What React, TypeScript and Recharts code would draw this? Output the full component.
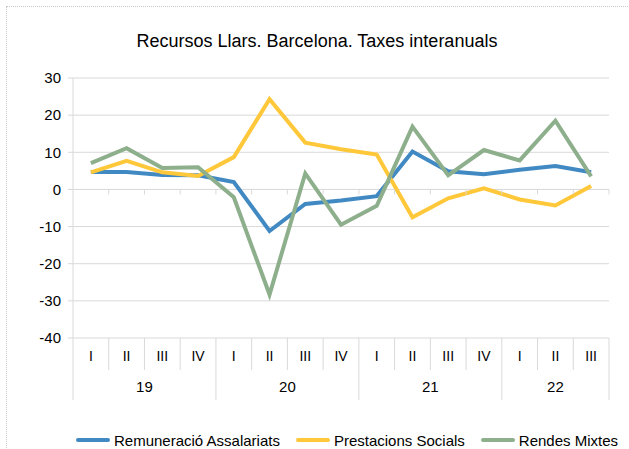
import { LineChart, Line, XAxis, YAxis, CartesianGrid } from "recharts";

const quarters = ["I", "II", "III", "IV", "I", "II", "III", "IV", "I", "II", "III", "IV", "I", "II", "III"];
const years = ["19", "19", "19", "19", "20", "20", "20", "20", "21", "21", "21", "21", "22", "22", "22"];

const remuneracio = [4.7, 4.7, 3.9, 3.8, 2.0, -11.2, -3.9, -3.0, -1.8, 10.2, 4.9, 4.1, 5.3, 6.3, 4.6];
const prestacions = [4.6, 7.7, 4.6, 3.6, 8.7, 24.3, 12.6, 10.8, 9.4, -7.5, -2.4, 0.3, -2.7, -4.3, 0.9];
const rendes = [7.1, 11.1, 5.8, 6.0, -2.1, -28.3, 4.3, -9.5, -4.4, 16.9, 3.8, 10.6, 7.8, 18.5, 3.5];

const yTicks = [-40, -30, -20, -10, 0, 10, 20, 30];

const series = [
  { key: "rem", name: "Remuneració Assalariats", color: "#4189C3" },
  { key: "pre", name: "Prestacions Socials", color: "#FFC83A" },
  { key: "ren", name: "Rendes Mixtes", color: "#8DAF8C" },
];

const data = quarters.map((q, i) => ({
  idx: i,
  q,
  year: years[i],
  rem: remuneracio[i],
  pre: prestacions[i],
  ren: rendes[i],
}));

const W = 629;
const H = 449;
const TOP = 78;
const LEFT = 73;
const RIGHT = 20;
const PLOT_H = 260;
const BAND = (W - LEFT - RIGHT) / quarters.length;
const Y_MAX = 30;
const Y_MIN = -40;
const ZERO_Y = TOP + ((Y_MAX - 0) / (Y_MAX - Y_MIN)) * PLOT_H;
const GRID = "#d9d9d9";
const FONT = "'Liberation Sans', Arial, sans-serif";

const CategoryTick = (props: any) => {
  const { x, y, payload } = props;
  const i = payload.index ?? payload.value;
  const half = BAND / 2;
  const yearStart = i === 0 || years[i] !== years[i - 1];
  const last = i === quarters.length - 1;
  let yearLabel = null;
  if (yearStart) {
    const len = years.filter((v) => v === years[i]).length;
    const cx = x - half + (len * BAND) / 2;
    yearLabel = (
      <text x={cx} y={y + 48} textAnchor="middle" dominantBaseline="central" fontSize={15} fill="#000" fontFamily={FONT}>
        {years[i]}
      </text>
    );
  }
  return (
    <g>
      <line x1={x - half} y1={y} x2={x - half} y2={y + (yearStart ? 62 : 32)} stroke={GRID} />
      {last && <line x1={x + half} y1={y} x2={x + half} y2={y + 62} stroke={GRID} />}
      {i > 0 && <line x1={x - half} y1={ZERO_Y} x2={x - half} y2={ZERO_Y + 5} stroke={GRID} />}
      {last && <line x1={x + half} y1={ZERO_Y} x2={x + half} y2={ZERO_Y + 5} stroke={GRID} />}
      <text x={x} y={y + 18} textAnchor="middle" dominantBaseline="central" fontSize={14} fill="#000" fontFamily={FONT}>
        {quarters[i]}
      </text>
      {yearLabel}
    </g>
  );
};

export default function App() {
  return (
    <div style={{ position: "absolute", left: 0, top: 0, width: W, height: H, background: "#fff", fontFamily: FONT }}>
      <div
        style={{
          position: "absolute",
          left: 6,
          top: 6,
          width: W - 6,
          height: H - 6,
          borderTop: "1px dotted #c8c8c8",
          borderLeft: "1px dotted #c8c8c8",
        }}
      />
      <div
        style={{
          position: "absolute",
          left: 0,
          top: 28,
          width: 634,
          textAlign: "center",
          fontSize: 18,
          lineHeight: "26px",
          color: "#000",
        }}
      >
        Recursos Llars. Barcelona. Taxes interanuals
      </div>
      <LineChart
        width={W}
        height={H}
        data={data}
        margin={{ top: TOP, right: RIGHT, left: 0, bottom: H - TOP - PLOT_H - 111 }}
      >
        <CartesianGrid vertical={false} stroke={GRID} />
        <XAxis
          dataKey="idx"
          interval={0}
          tickSize={0}
          tickMargin={0}
          axisLine={false}
          height={111}
          padding={{ left: BAND / 2, right: BAND / 2 }}
          tick={<CategoryTick />}
        />
        <YAxis
          width={LEFT}
          domain={[Y_MIN, Y_MAX]}
          ticks={yTicks}
          tickSize={5}
          tickMargin={7}
          interval={0}
          axisLine={{ stroke: GRID }}
          tickLine={{ stroke: GRID }}
          tick={{ fill: "#000", fontSize: 15, fontFamily: FONT }}
        />
        {series.map((s) => (
          <Line
            key={s.key}
            type="linear"
            dataKey={s.key}
            name={s.name}
            stroke={s.color}
            strokeWidth={4}
            dot={false}
            activeDot={false}
            isAnimationActive={false}
          />
        ))}
      </LineChart>
      <div
        style={{
          position: "absolute",
          left: 76,
          top: 429,
          height: 22,
          display: "flex",
          alignItems: "center",
          fontSize: 15,
          color: "#000",
          whiteSpace: "nowrap",
        }}
      >
        {series.map((s) => (
          <div key={s.key} style={{ display: "flex", alignItems: "center", marginRight: 16 }}>
            <span style={{ display: "inline-block", width: 34, height: 4, borderRadius: 2, background: s.color, marginRight: 4 }} />
            <span>{s.name}</span>
          </div>
        ))}
      </div>
    </div>
  );
}
